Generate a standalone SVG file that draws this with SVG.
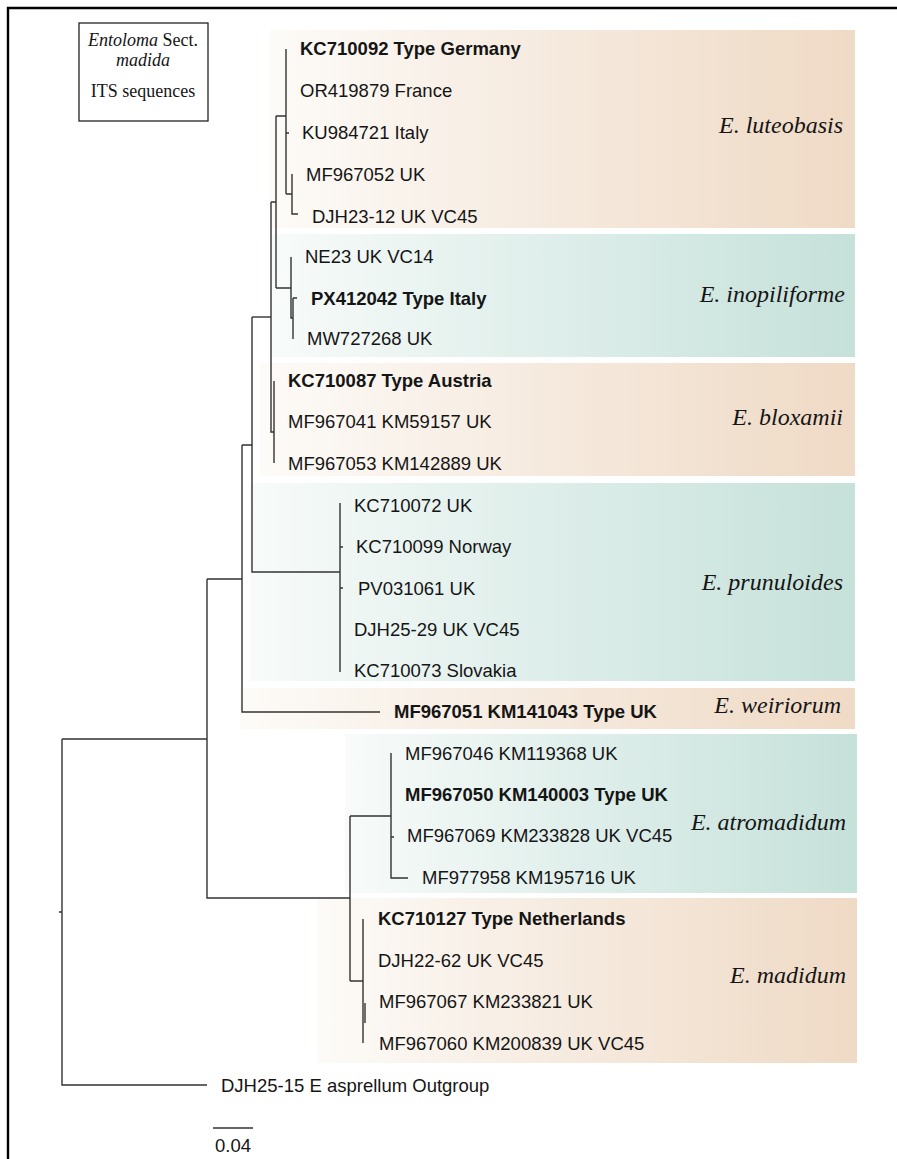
<svg xmlns="http://www.w3.org/2000/svg" width="897" height="1159" viewBox="0 0 897 1159">
<defs>
<linearGradient id="peach" x1="0" y1="0" x2="1" y2="0">
<stop offset="0" stop-color="#fdfbf8"/>
<stop offset="0.45" stop-color="#f6ebe0"/>
<stop offset="1" stop-color="#efdac5"/>
</linearGradient>
<linearGradient id="teal" x1="0" y1="0" x2="1" y2="0">
<stop offset="0" stop-color="#f8fbfa"/>
<stop offset="0.45" stop-color="#e0efeb"/>
<stop offset="1" stop-color="#c6e1da"/>
</linearGradient>
<style>
.t{font-family:"Liberation Sans",Arial,sans-serif;font-size:18.5px;fill:#151515}
.b{font-weight:bold}
.sp{font-family:"Liberation Serif","Times New Roman",serif;font-style:italic;font-size:24px;fill:#151515;text-anchor:end}
.lg{font-family:"Liberation Serif","Times New Roman",serif;font-size:18px;fill:#151515;text-anchor:middle}
.ln{fill:none;stroke:#333;stroke-width:1.4}
</style>
</defs>
<rect x="0" y="0" width="897" height="1159" fill="#fff"/>
<path d="M8,1159 V8 H897" fill="none" stroke="#000" stroke-width="2.4"/>

<g id="bands">
<rect x="270" y="30" width="585" height="198" fill="url(#peach)"/>
<rect x="270" y="234" width="585" height="123" fill="url(#teal)"/>
<rect x="260" y="363" width="595" height="113" fill="url(#peach)"/>
<rect x="250" y="483" width="605" height="198" fill="url(#teal)"/>
<rect x="240" y="688" width="615" height="41" fill="url(#peach)"/>
<rect x="345" y="734" width="512" height="159" fill="url(#teal)"/>
<rect x="317" y="898" width="540" height="165" fill="url(#peach)"/>
</g>

<g id="legend">
<rect x="79" y="23" width="129" height="98" fill="none" stroke="#222" stroke-width="1.3"/>
<text class="lg" x="143" y="46"><tspan font-style="italic">Entoloma</tspan> Sect.</text>
<text class="lg" x="143" y="66" font-style="italic">madida</text>
<text class="lg" x="143" y="97">ITS sequences</text>
</g>

<g id="connectors" class="ln">
<path d="M286,49 V194 M286,133 H289 M276,116 H286 M286,194 H292 M292,174 V214 H298"/>
<path d="M276,116 V288 M271,202 H276"/>
<path d="M276,288 H291 M291,257 V318 H293 M293,298 V339 M293,298 H297"/>
<path d="M271,202 V432 H274 M274,381 V463"/>
<path d="M252,317 H271"/>
<path d="M252,317 V572 H340 M340,503 V672 M340,547 H343 M340,588 H343"/>
<path d="M242,445 H252 M242,445 V712 H380"/>
<path d="M207,579 H242 M207,579 V898 H350"/>
<path d="M62,739 H207 M62,739 V1085 H207 M59,912 H62"/>
<path d="M350,816 V981 M350,816 H391 M391,753 V878 H408 M391,837 H394"/>
<path d="M350,981 H363 M363,919 V1043 M365,1003 V1023"/>
</g>

<g id="clade-luteobasis">
<text class="t b" x="300" y="55">KC710092 Type Germany</text>
<text class="t" x="300" y="97">OR419879 France</text>
<text class="t" x="302" y="139">KU984721 Italy</text>
<text class="t" x="306" y="181">MF967052 UK</text>
<text class="t" x="312" y="223">DJH23-12 UK VC45</text>
<text class="sp" x="843" y="133">E. luteobasis</text>
</g>
<g id="clade-inopiliforme">
<text class="t" x="305" y="263">NE23 UK VC14</text>
<text class="t b" x="311" y="305">PX412042 Type Italy</text>
<text class="t" x="307" y="345">MW727268 UK</text>
<text class="sp" x="845" y="302">E. inopiliforme</text>
</g>
<g id="clade-bloxamii">
<text class="t b" x="288" y="387">KC710087 Type Austria</text>
<text class="t" x="288" y="428">MF967041 KM59157 UK</text>
<text class="t" x="288" y="470">MF967053 KM142889 UK</text>
<text class="sp" x="843" y="425">E. bloxamii</text>
</g>
<g id="clade-prunuloides">
<text class="t" x="354" y="512">KC710072 UK</text>
<text class="t" x="356" y="553">KC710099 Norway</text>
<text class="t" x="358" y="595">PV031061 UK</text>
<text class="t" x="354" y="636">DJH25-29 UK VC45</text>
<text class="t" x="354" y="677">KC710073 Slovakia</text>
<text class="sp" x="843" y="590">E. prunuloides</text>
</g>
<g id="clade-weiriorum">
<text class="t b" x="394" y="718">MF967051 KM141043 Type UK</text>
<text class="sp" x="841" y="713">E. weiriorum</text>
</g>
<g id="clade-atromadidum">
<text class="t" x="405" y="760">MF967046 KM119368 UK</text>
<text class="t b" x="405" y="801">MF967050 KM140003 Type UK</text>
<text class="t" x="407" y="842">MF967069 KM233828 UK VC45</text>
<text class="t" x="422" y="884">MF977958 KM195716 UK</text>
<text class="sp" x="846" y="830">E. atromadidum</text>
</g>
<g id="clade-madidum">
<text class="t b" x="378" y="925">KC710127 Type Netherlands</text>
<text class="t" x="378" y="967">DJH22-62 UK VC45</text>
<text class="t" x="379" y="1008">MF967067 KM233821 UK</text>
<text class="t" x="379" y="1050">MF967060 KM200839 UK VC45</text>
<text class="sp" x="846" y="983">E. madidum</text>
</g>
<g id="outgroup">
<text class="t" x="221" y="1092">DJH25-15 E asprellum Outgroup</text>
</g>
<g id="scalebar">
<path d="M213,1128 H253" stroke="#333" stroke-width="1.4"/>
<text class="t" x="215" y="1152">0.04</text>
</g>
</svg>
